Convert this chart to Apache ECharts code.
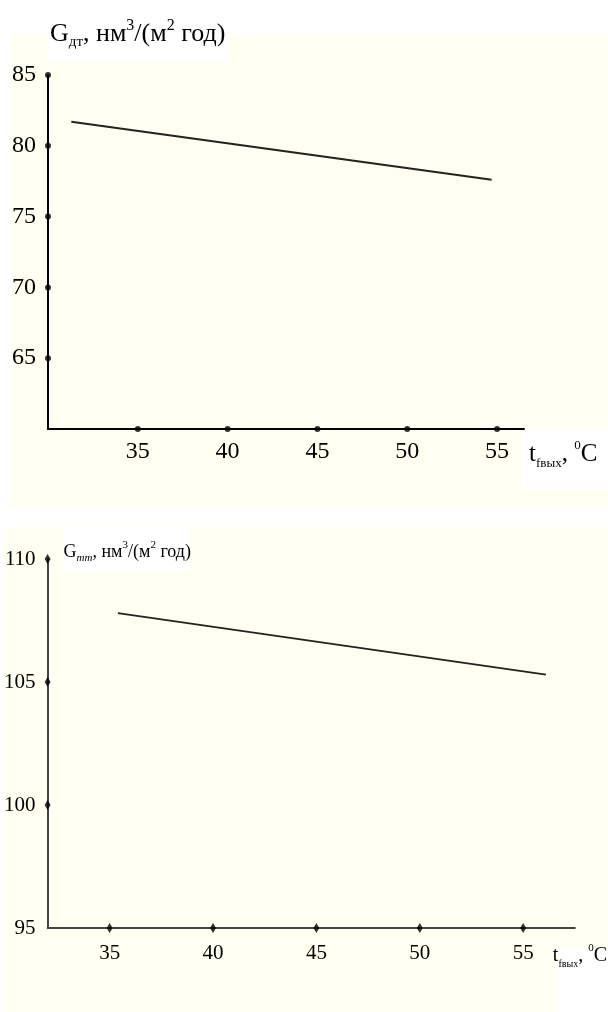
<!DOCTYPE html>
<html><head><meta charset="utf-8">
<script src="https://cdn.jsdelivr.net/npm/echarts@6/dist/echarts.min.js"></script>
<style>html,body{margin:0;padding:0;background:#fff}#c{width:608px;height:1012px}</style>
</head><body><div id="c"></div><script>
// ---- data ----
const topXTicks = [35, 40, 45, 50, 55];
const topYTicks = [65, 70, 75, 80, 85];
const topLineX = [31.3, 54.7];
const topLineY = [81.7, 77.6];
const topXRange = [30, 56.5];
const topYRange = [60, 85];

const botXTicks = [35, 40, 45, 50, 55];
const botYTicks = [95, 100, 105, 110];
const botYMarks = [100, 105, 110];
const botLineX = [35.4, 56.1];
const botLineY = [107.8, 105.3];
const botXRange = [32, 57.5];
const botYRange = [95, 110];

const topYName = ['G', 'дт', ', нм', '3', '/(м', '2', ' год)'];
const botYName = ['G', 'тт', ', нм', '3', '/(м', '2', ' год)'];
const xName = ['t', 'fвых', ', ', '0', 'C'];

// ---- helpers ----
const SERIF = '"Liberation Serif", "Times New Roman", serif';
function yNameStr(p) {
  return `{m|${p[0]}}{sub|${p[1]}}{m|${p[2]}}{sup|${p[3]}}{m|${p[4]}}{sup|${p[5]}}{m|${p[6]}}`;
}
function xNameStr(p) {
  return `{m|${p[0]}}{sub|${p[1]}}{m|${p[2]}}{sup|${p[3]}}{m|${p[4]}}`;
}
function rich(main, sub, sup, subItalic) {
  return {
    m: {fontFamily: SERIF, fontSize: main, lineHeight: main + 6, color: '#000', verticalAlign: 'middle'},
    sub: {fontFamily: SERIF, fontSize: sub, lineHeight: sub + 2, color: '#000', verticalAlign: 'bottom', fontStyle: subItalic ? 'italic' : 'normal'},
    sup: {fontFamily: SERIF, fontSize: sup, lineHeight: sup + 2, color: '#000', verticalAlign: 'top'}
  };
}

const chart = echarts.init(document.getElementById('c'), null, {renderer: 'canvas'});
const cream = '#fffff2';

const option = {
  backgroundColor: '#ffffff',
  animation: false,
  graphic: [
    {type: 'rect', z: -10, silent: true, shape: {x: 12, y: 35, width: 596, height: 473}, style: {fill: cream}},
    {type: 'rect', z: -9, silent: true, shape: {x: 47, y: 0, width: 181, height: 62}, style: {fill: '#fff'}},
    {type: 'rect', z: -9, silent: true, shape: {x: 522, y: 429, width: 86, height: 61}, style: {fill: '#fff'}},
    {type: 'rect', z: -10, silent: true, shape: {x: 3, y: 527, width: 605, height: 485}, style: {fill: cream}},
    {type: 'rect', z: -9, silent: true, shape: {x: 63, y: 528, width: 127, height: 44}, style: {fill: '#fff'}},
    {type: 'rect', z: -9, silent: true, shape: {x: 558, y: 948, width: 50, height: 64}, style: {fill: '#fff'}}
  ],
  grid: [
    {left: 48, top: 75, width: 476, height: 354, containLabel: false},
    {left: 47.6, top: 559, width: 533.4, height: 369, containLabel: false}
  ],
  xAxis: [
    {
      gridIndex: 0, type: 'value', min: topXRange[0], max: topXRange[1],
      axisLine: {show: true, onZero: false, lineStyle: {color: '#000', width: 2}},
      axisTick: {show: false}, splitLine: {show: false},
      axisLabel: {customValues: topXTicks, margin: 11, fontFamily: SERIF, fontSize: 24, color: '#000'},
      name: xNameStr(xName), nameLocation: 'end', nameGap: 5,
      nameTextStyle: {align: 'left', verticalAlign: 'top', padding: [10, 0, 0, 0], rich: rich(25, 13, 13, false)}
    },
    {
      gridIndex: 1, type: 'value', min: botXRange[0], max: botXRange[1],
      axisLine: {show: true, onZero: false, lineStyle: {color: '#444', width: 2}},
      axisTick: {show: false}, splitLine: {show: false},
      axisLabel: {customValues: botXTicks, margin: 15, fontFamily: SERIF, fontSize: 21, color: '#000'},
      name: xNameStr(xName), nameLocation: 'end', nameGap: -22,
      nameTextStyle: {align: 'left', verticalAlign: 'top', padding: [15, 0, 0, 0], rich: rich(20, 10, 11, false)}
    }
  ],
  yAxis: [
    {
      gridIndex: 0, type: 'value', min: topYRange[0], max: topYRange[1],
      axisLine: {show: true, onZero: false, lineStyle: {color: '#000', width: 2}},
      axisTick: {show: false}, splitLine: {show: false},
      axisLabel: {customValues: topYTicks, margin: 12, fontFamily: SERIF, fontSize: 24, color: '#000'},
      name: yNameStr(topYName), nameLocation: 'end', nameGap: 41,
      nameTextStyle: {align: 'left', verticalAlign: 'middle', padding: [0, 0, 0, 2], rich: rich(26, 15, 16, false)}
    },
    {
      gridIndex: 1, type: 'value', min: botYRange[0], max: botYRange[1],
      axisLine: {show: true, onZero: false, lineStyle: {color: '#444', width: 2}},
      axisTick: {show: false}, splitLine: {show: false},
      axisLabel: {customValues: botYTicks, margin: 12, fontFamily: SERIF, fontSize: 21, color: '#000'},
      name: yNameStr(botYName), nameLocation: 'end', nameGap: 7,
      nameTextStyle: {align: 'left', verticalAlign: 'middle', padding: [0, 0, 0, 16], rich: rich(18, 11, 11, true)}
    }
  ],
  series: [
    {
      type: 'line', xAxisIndex: 0, yAxisIndex: 0, symbol: 'none',
      lineStyle: {color: '#222', width: 2},
      data: topLineX.map((x, i) => [x, topLineY[i]])
    },
    {
      type: 'scatter', xAxisIndex: 0, yAxisIndex: 0, symbol: 'circle', symbolSize: 6, clip: false,
      itemStyle: {color: '#000'}, z: 5,
      data: topYTicks.map(v => [topXRange[0], v]).concat(topXTicks.map(v => [v, topYRange[0]]))
    },
    {
      type: 'line', xAxisIndex: 1, yAxisIndex: 1, symbol: 'none',
      lineStyle: {color: '#222', width: 2},
      data: botLineX.map((x, i) => [x, botLineY[i]])
    },
    {
      type: 'scatter', xAxisIndex: 1, yAxisIndex: 1, symbol: 'diamond', symbolSize: [6, 10], clip: false,
      itemStyle: {color: '#000'}, z: 5,
      data: botYMarks.map(v => [botXRange[0], v]).concat(botXTicks.map(v => [v, botYRange[0]]))
    }
  ]
};
chart.setOption(option);
</script></body></html>
